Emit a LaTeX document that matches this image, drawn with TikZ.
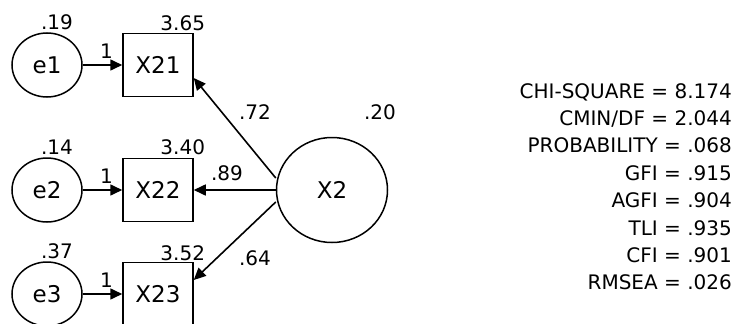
\documentclass[tikz,border=0pt]{standalone}
\usepackage{fontspec}
\setmainfont{DejaVu Sans}
\usetikzlibrary{arrows.meta, positioning, calc, shapes.geometric}

\begin{document}
\begin{tikzpicture}[x=1pt, y=-1pt,
    errv/.style={ellipse, draw, line width=1.5pt,
        minimum width=70pt, minimum height=64pt, inner sep=0pt,
        font=\fontsize{23}{25}\selectfont},
    obsv/.style={rectangle, draw, line width=1.5pt,
        minimum width=70pt, minimum height=63pt, inner sep=0pt,
        font=\fontsize{23}{25}\selectfont},
    latv/.style={ellipse, draw, line width=1.5pt,
        minimum width=111pt, minimum height=105pt, inner sep=0pt,
        font=\fontsize{23}{25}\selectfont},
    num/.style={font=\fontsize{20}{22}\selectfont, inner sep=0pt},
    stat/.style={font=\fontsize{20}{22}\selectfont, inner sep=0pt,
        anchor=base east},
    arr/.style={-{Triangle[length=12pt, width=11pt]}, line width=1.6pt}]
  \clip (0,0) rectangle (737,324);
  % Variables
  \node[errv] (e1)  at (47,65)   {e1};
  \node[errv] (e2)  at (47,190)  {e2};
  \node[errv] (e3)  at (47,294)  {e3};
  \node[obsv] (X21) at (158,65)  {X21};
  \node[obsv] (X22) at (158,190) {X22};
  \node[obsv] (X23) at (158,294) {X23};
  \node[latv] (X2)  at (332,190) {X2};
  % Flechas
  \draw[arr] (e1) -- (X21);
  \draw[arr] (e2) -- (X22);
  \draw[arr] (e3) -- (X23);
  \draw[arr] ($(X2.west)+(0,-12)$) -- ($(X21.east)+(0,13)$);
  \draw[arr] (X2.west) -- (X22.east);
  \draw[arr] ($(X2.west)+(0,12)$) -- ($(X23.east)+(0,-14)$);
  % Varianzas e interceptos
  \node[num] (v1) at ($(e1.north)+(10,-10)$) {.19};
  \node[num] (v2) at ($(e2.north)+(10,-10)$) {.14};
  \node[num] (v3) at ($(e3.north)+(10,-10)$) {.37};
  \node[num] (m1) at ($(X21.north east)+(-11,-10)$) {3.65};
  \node[num] (m2) at ($(X22.north east)+(-11,-11)$) {3.40};
  \node[num] (m3) at ($(X23.north east)+(-11,-9)$)  {3.52};
  \node[num] (vX) at ($(X2)+(48,-78)$) {.20};
  % Pesos
  \node[num] (w1) at ($(e1.east)!0.6!(X21.west)+(0,-14)$) {1};
  \node[num] (w2) at ($(e2.east)!0.6!(X22.west)+(0,-14)$) {1};
  \node[num] (w3) at ($(e3.east)!0.6!(X23.west)+(0,-14)$) {1};
  \node[num] (l1) at ($(X2)+(-77,-78)$)  {.72};
  \node[num] (l2) at ($(X2)+(-105,-17)$) {.89};
  \node[num] (l3) at ($(X2)+(-77,68)$)   {.64};
  % Ajuste
  \foreach \s [count=\i from 0] in {CHI-SQUARE = 8.174, CMIN/DF = 2.044,
      PROBABILITY = .068, GFI = .915, AGFI = .904, TLI = .935,
      CFI = .901, RMSEA = .026}
    \node[stat] (fit\i) at (732, {98+27.4*\i}) {\s};
\end{tikzpicture}
\end{document}
